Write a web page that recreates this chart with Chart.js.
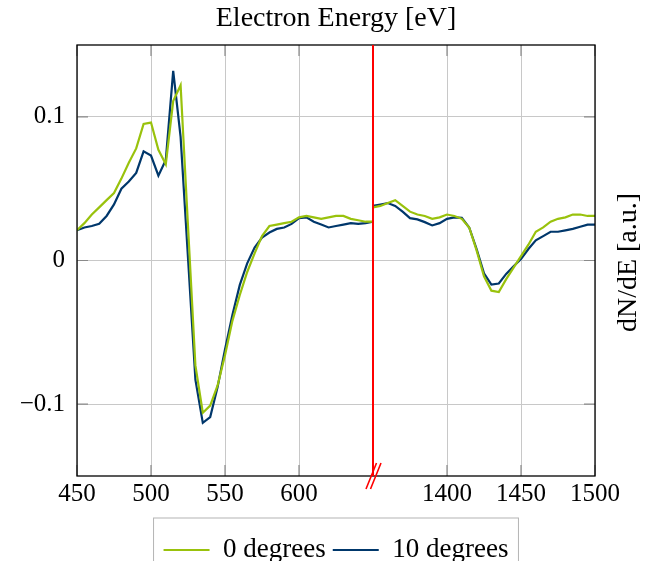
<!DOCTYPE html>
<html>
<head>
<meta charset="utf-8">
<script src="https://cdn.jsdelivr.net/npm/chart.js@4.4.1/dist/chart.umd.min.js"></script>
<style>
  html, body { margin: 0; padding: 0; background: #fff; }
  #wrap { width: 667px; height: 561px; }
</style>
</head>
<body>
<div id="wrap"><canvas id="chart"></canvas></div>
<script>
"use strict";

// energies in eV, the axis is broken between 650 and 1350
const energyLow = [450, 455, 460, 465, 470, 475, 480, 485, 490, 495, 500, 505, 510, 515, 520, 525, 530, 535, 540, 545,
  550, 555, 560, 565, 570, 575, 580, 585, 590, 595, 600, 605, 610, 615, 620, 625, 630, 635, 640, 645, 650];
const energyHigh = [1350, 1355, 1360, 1365, 1370, 1375, 1380, 1385, 1390, 1395, 1400, 1405, 1410, 1415, 1420, 1425,
  1430, 1435, 1440, 1445, 1450, 1455, 1460, 1465, 1470, 1475, 1480, 1485, 1490, 1495, 1500];

const deg0Low = [0.021, 0.026, 0.032, 0.037, 0.042, 0.047, 0.057, 0.068, 0.078, 0.095, 0.096, 0.077, 0.067, 0.111,
  0.122, 0.024, -0.073, -0.106, -0.101, -0.087, -0.066, -0.042, -0.024, -0.008, 0.005, 0.017, 0.024, 0.025, 0.026,
  0.027, 0.030, 0.031, 0.030, 0.029, 0.030, 0.031, 0.031, 0.029, 0.028, 0.027, 0.027];
const deg0High = [0.037, 0.038, 0.040, 0.042, 0.038, 0.034, 0.032, 0.031, 0.029, 0.030, 0.032, 0.031, 0.029, 0.023,
  0.007, -0.011, -0.021, -0.022, -0.013, -0.005, 0.003, 0.011, 0.020, 0.023, 0.027, 0.029, 0.030, 0.032, 0.032,
  0.031, 0.031];

const deg10Low = [0.021, 0.023, 0.024, 0.0255, 0.031, 0.039, 0.050, 0.055, 0.061, 0.076, 0.073, 0.059, 0.070, 0.132,
  0.086, 0.002, -0.083, -0.113, -0.109, -0.088, -0.062, -0.038, -0.017, -0.002, 0.009, 0.016, 0.0195, 0.022, 0.023,
  0.0255, 0.0295, 0.030, 0.027, 0.025, 0.023, 0.024, 0.025, 0.026, 0.0255, 0.026, 0.027];
const deg10High = [0.038, 0.039, 0.040, 0.038, 0.034, 0.0295, 0.0286, 0.0267, 0.0244, 0.026, 0.029, 0.030, 0.0297,
  0.023, 0.008, -0.009, -0.0167, -0.016, -0.0093, -0.004, 0.001, 0.008, 0.014, 0.017, 0.020, 0.020, 0.021, 0.022,
  0.0235, 0.025, 0.025];

const xTickLabels = [450, 500, 550, 600, 1400, 1450, 1500];
const yTickValues = [-0.1, 0, 0.1];

const breakStart = 650;
const breakEnd = 1350;
const serif = "'Liberation Serif', 'DejaVu Serif', serif";

function toAxis(e) {
  return e > breakStart ? e - (breakEnd - breakStart) : e;
}
function fromAxis(v) {
  return v > breakStart ? v + (breakEnd - breakStart) : v;
}

function buildSeries(low, high) {
  let pts = [];
  for (let i = 0; i < energyLow.length; i++) {
    pts.push({ x: toAxis(energyLow[i]), y: low[i] });
  }
  pts.push({ x: breakStart, y: null });
  for (let i = 0; i < energyHigh.length; i++) {
    pts.push({ x: toAxis(energyHigh[i]), y: high[i] });
  }
  return pts;
}

// red break line, the // marks, frame, inward ticks
const breakPlugin = {
  id: 'breakPlugin',
  afterDatasetsDraw(chart) {
    const ctx = chart.ctx;
    const area = chart.chartArea;
    const xs = chart.scales.x;
    const ys = chart.scales.y;
    const bx = xs.getPixelForValue(breakStart);

    ctx.save();
    // tick marks pointing inwards
    ctx.strokeStyle = '#8a8a8a';
    ctx.lineWidth = 1.2;
    ctx.beginPath();
    xs.ticks.forEach(t => {
      const px = xs.getPixelForValue(t.value);
      ctx.moveTo(px, area.top); ctx.lineTo(px, area.top + 11);
      ctx.moveTo(px, area.bottom); ctx.lineTo(px, area.bottom - 11);
    });
    ys.ticks.forEach(t => {
      const py = ys.getPixelForValue(t.value);
      ctx.moveTo(area.left, py); ctx.lineTo(area.left + 11, py);
      ctx.moveTo(area.right, py); ctx.lineTo(area.right - 11, py);
    });
    ctx.stroke();

    // frame
    ctx.strokeStyle = '#000';
    ctx.lineWidth = 1.3;
    ctx.strokeRect(area.left, area.top, area.right - area.left, area.bottom - area.top);

    // break line
    ctx.strokeStyle = '#ff0000';
    ctx.lineWidth = 2;
    ctx.beginPath();
    ctx.moveTo(bx, area.top);
    ctx.lineTo(bx, area.bottom);
    ctx.stroke();

    ctx.lineWidth = 1.6;
    ctx.beginPath();
    ctx.moveTo(bx - 7, area.bottom + 13); ctx.lineTo(bx + 3.5, area.bottom - 13);
    ctx.moveTo(bx - 2.5, area.bottom + 13); ctx.lineTo(bx + 8, area.bottom - 13);
    ctx.stroke();

    // y title on the right, reading upwards
    ctx.fillStyle = '#000';
    ctx.font = '28px ' + serif;
    ctx.textAlign = 'center';
    ctx.textBaseline = 'middle';
    ctx.translate(629, (area.top + area.bottom) / 2 + 2);
    ctx.rotate(-Math.PI / 2);
    ctx.fillText('dN/dE [a.u.]', 0, 0);
    ctx.restore();
  },
  afterDraw(chart) {
    const lg = chart.legend;
    const boxes = lg.legendHitBoxes;
    if (!boxes || !boxes.length) return;
    const last = boxes[boxes.length - 1];
    const left = boxes[0].left - 10;
    const right = last.left + last.width + 10;
    const ctx = chart.ctx;
    ctx.save();
    ctx.strokeStyle = '#b4b4b4';
    ctx.lineWidth = 1;
    ctx.strokeRect(left, 518, right - left, 80);
    ctx.restore();
  }
};

Chart.defaults.color = '#000';
Chart.defaults.font.family = serif;

let chartCanvas = document.getElementById('chart');

let config = {
  type: 'line',
  data: {
    datasets: [
      {
        label: '0 degrees',
        data: buildSeries(deg0Low, deg0High),
        borderColor: '#99c20c',
        backgroundColor: '#99c20c',
        borderWidth: 2.2,
        pointRadius: 0,
        pointStyle: 'line',
        tension: 0,
        spanGaps: false
      },
      {
        label: '10 degrees',
        data: buildSeries(deg10Low, deg10High),
        borderColor: '#00376b',
        backgroundColor: '#00376b',
        borderWidth: 2.2,
        pointRadius: 0,
        pointStyle: 'line',
        tension: 0,
        spanGaps: false
      }
    ]
  },
  options: {
    responsive: true,
    maintainAspectRatio: false,
    animation: false,
    layout: { padding: { left: 0, right: 72, top: 0, bottom: -12.5 } },
    plugins: {
      title: {
        display: true,
        fullSize: false,
        text: 'Electron Energy [eV]',
        color: '#000',
        font: { size: 28, weight: 'normal', family: serif },
        padding: { top: 2, bottom: 9.4 }
      },
      legend: {
        position: 'bottom',
        fullSize: false,
        labels: {
          usePointStyle: true,
          pointStyle: 'line',
          pointStyleWidth: 46,
          padding: 7,
          color: '#000',
          font: { size: 27, family: serif }
        }
      },
      tooltip: { enabled: false }
    },
    scales: {
      x: {
        type: 'linear',
        min: 450,
        max: 800,
        afterBuildTicks(scale) {
          scale.ticks = xTickLabels.map(v => ({ value: toAxis(v) }));
        },
        afterFit(scale) {
          scale.height = 53.5;
        },
        ticks: {
          autoSkip: false,
          maxRotation: 0,
          padding: 3,
          font: { size: 25, family: serif },
          callback: value => String(fromAxis(value))
        },
        grid: { color: '#c8c8c8', lineWidth: 1, drawTicks: false },
        border: { display: false }
      },
      y: {
        type: 'linear',
        min: -0.15,
        max: 0.15,
        afterBuildTicks(scale) {
          scale.ticks = yTickValues.map(v => ({ value: v }));
        },
        afterFit(scale) {
          scale.width = 77;
        },
        ticks: {
          padding: 12,
          font: { size: 25, family: serif },
          callback: value => value < 0 ? '\u2212' + String(Math.abs(value)) : String(value)
        },
        grid: { color: '#c8c8c8', lineWidth: 1, drawTicks: false },
        border: { display: false }
      }
    }
  },
  plugins: [breakPlugin]
};

let myChart = new Chart(chartCanvas, config);
</script>
</body>
</html>
